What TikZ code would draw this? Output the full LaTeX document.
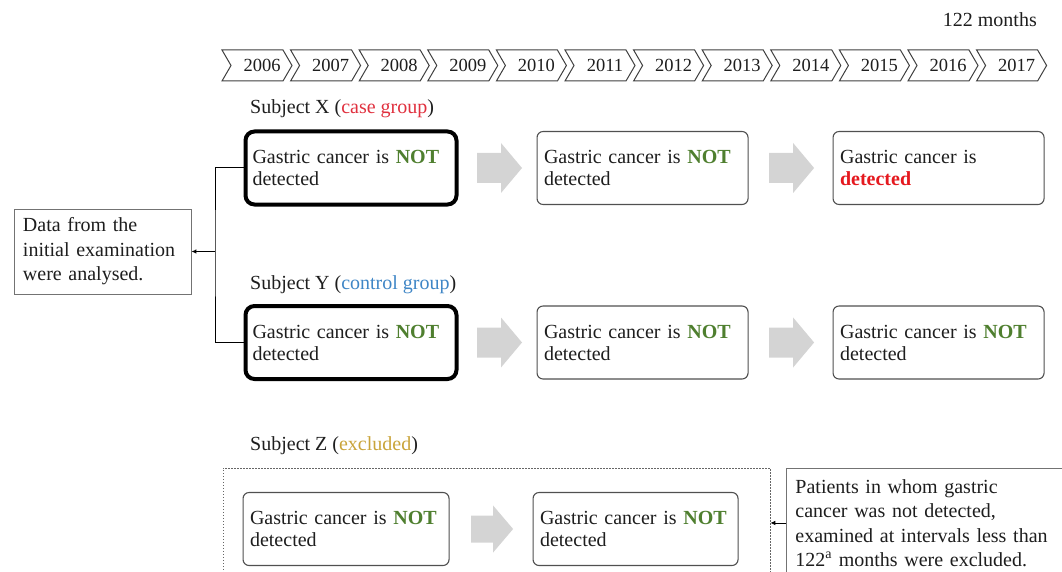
\documentclass[tikz,border=0pt]{standalone}
\usepackage{fontspec}
\setmainfont{Liberation Serif}
\usetikzlibrary{arrows.meta,calc}
\definecolor{notgreen}{HTML}{4F7F2F}
\definecolor{detred}{HTML}{E5191F}
\definecolor{casered}{HTML}{E0303E}
\definecolor{ctrlblue}{HTML}{3F86C6}
\definecolor{exclgold}{HTML}{C9A43A}
\definecolor{arrowgray}{HTML}{D4D4D4}
\definecolor{txt}{HTML}{1E1E1E}
\definecolor{edge}{HTML}{505050}
\newcommand{\NOTword}{\textbf{\textcolor{notgreen}{NOT}}}
% #1 node, #2 offset, #3 shaft length, #4 total length, #5 head half height, #6 shaft half height
\newcommand{\fatarrow}[6]{%
  \fill[arrowgray] ($(#1.east)+(#2,0)$) +(0,-#6) -- +(#3,-#6) -- +(#3,-#5) -- +(#4,0)
    -- +(#3,#5) -- +(#3,#6) -- +(0,#6) -- cycle;}
\begin{document}
\begin{tikzpicture}[x=1pt,y=-1pt,
  font=\fontsize{20}{22}\selectfont, text=txt,
  box/.style={draw=edge, line width=1.1pt, rounded corners=6pt, fill=white,
    text width=#1, inner xsep=7pt, inner ysep=0pt, minimum height=73pt,
    align=left, anchor=west},
  thickbox/.style={box=#1, draw=black, line width=4pt, rounded corners=9pt},
  sidebox/.style={draw=black!55, line width=0.9pt, fill=white, text width=#1,
    inner xsep=9pt, inner ysep=0pt, align=left,
    font=\fontsize{20}{24.5}\selectfont},
  chev/.style={draw=black!75, line width=1pt, fill=white},
  yearlbl/.style={font=\fontsize{18.5}{20}\selectfont, anchor=base, inner sep=0pt},
  subj/.style={anchor=base west, inner sep=0pt},
  conn/.style={draw=black, line width=1pt},
  tip/.style={-{Latex[length=5pt,width=4.5pt]}}
]
\useasboundingbox (0,0) rectangle (1062,572);
\clip (0,0) rectangle (1062,572);

% timeline
\foreach \i in {0,...,11} {
  \pgfmathsetmacro\L{222+68.6*\i}
  \pgfmathtruncatemacro\yr{2006+\i}
  \draw[chev] (\L,50) -- ++(61,0) -- ++(9,15.5) -- ++(-9,15.5) -- ++(-61,0) -- ++(9,-15.5) -- cycle;
  \node[yearlbl] (yr\i) at (\L+40,72) {\yr};
}
\node[anchor=base east, inner sep=0pt] (months) at (1037,27) {122 months};

% subject labels
\node[subj] (sx) at (250,114) {Subject X (\textcolor{casered}{case group})};
\node[subj] (sy) at (250,289) {Subject Y (\textcolor{ctrlblue}{control group})};
\node[subj] (sz) at (250,450) {Subject Z (\textcolor{exclgold}{excluded})};

% row X
\node[thickbox=197pt] (x1) at (243.5,168) {Gastric cancer is \NOTword\\detected};
\node[box=197pt] (x2) at (536.5,168) {Gastric cancer is \NOTword\\detected};
\node[box=197pt] (x3) at (832.5,168) {Gastric cancer is\\\textbf{\textcolor{detred}{detected}}};
\fatarrow{x1}{18.5}{24}{45}{25}{15}
\fatarrow{x2}{20.5}{24}{45}{25}{15}

% row Y
\node[thickbox=197pt] (y1) at (243.5,342.5) {Gastric cancer is \NOTword\\detected};
\node[box=197pt] (y2) at (536.5,342.5) {Gastric cancer is \NOTword\\detected};
\node[box=197pt] (y3) at (832.5,342.5) {Gastric cancer is \NOTword\\detected};
\fatarrow{y1}{18.5}{24}{45}{25}{15}
\fatarrow{y2}{20.5}{24}{45}{25}{15}

% left data box and connector
\node[sidebox=159pt, minimum height=85pt, anchor=west] (data) at (13.5,251.5)
  {Data from the\\initial examination\\were analysed.};
\coordinate (jn) at (215,251.5);
\draw[conn] (x1.west) -| (jn) |- (y1.west);
\draw[conn,tip] (jn) -- (data.east);

% row Z
\node[draw=black!60, line width=0.8pt, dash pattern=on 1.5pt off 1.5pt,
  minimum width=547pt, minimum height=140pt, inner sep=0pt, anchor=north west] (zbox) at (222.5,467.5) {};
\node[box=192pt] (z1) at (242.5,529) {Gastric cancer is \NOTword\\detected};
\node[box=191pt] (z2) at (532.5,529) {Gastric cancer is \NOTword\\detected};
\fatarrow{z1}{21.5}{22}{42}{23.5}{13.5}

% note box
\node[sidebox=266pt, minimum height=109pt, anchor=north west] (note) at (786,468)
  {Patients in whom gastric\\cancer was not detected,\\examined at intervals less than\\122\textsuperscript{a} months were excluded.};
\draw[conn,line width=0.8pt,tip] (note.west) -- (note.west -| zbox.east);
\end{tikzpicture}
\end{document}
